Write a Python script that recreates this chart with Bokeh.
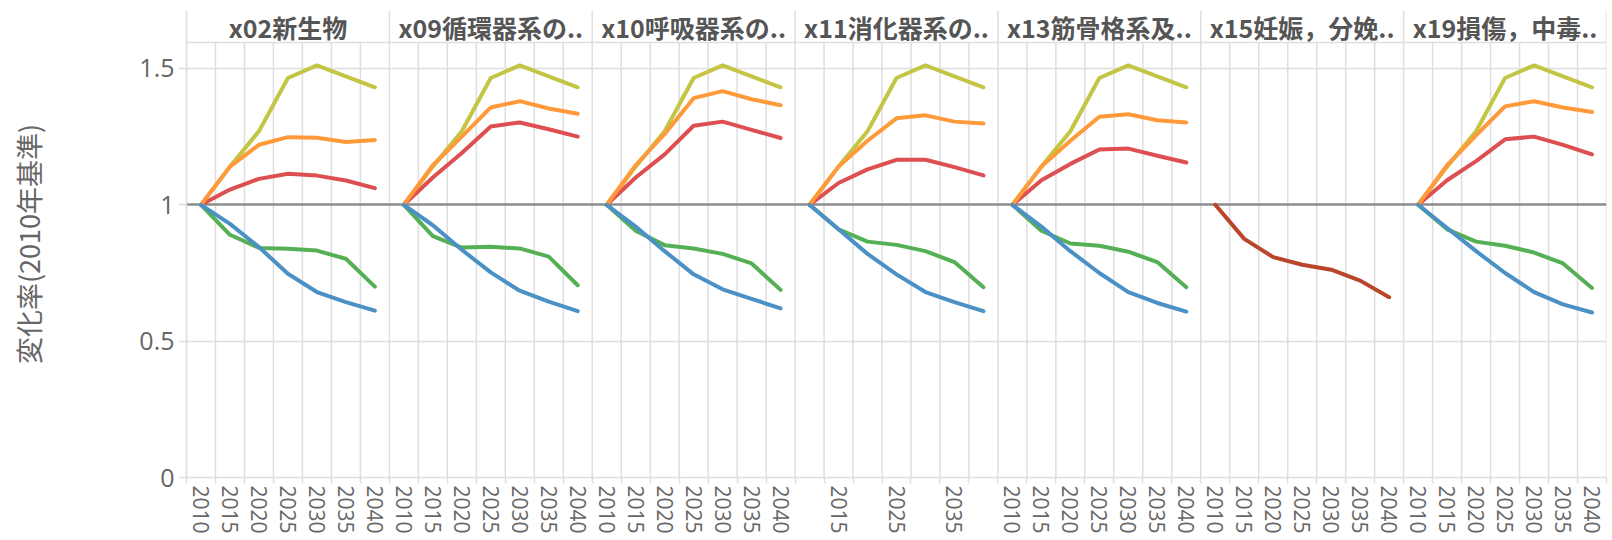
from bokeh.plotting import figure
from bokeh.models import Range1d, FixedTicker
from bokeh.core.properties import value
from bokeh.embed import file_html
from bokeh.resources import INLINE

# ---------------- data ----------------
years = [2010, 2015, 2020, 2025, 2030, 2035, 2040]
panels = ["x02新生物", "x09循環器系の..", "x10呼吸器系の..", "x11消化器系の..",
          "x13筋骨格系及..", "x15妊娠，分娩..", "x19損傷，中毒.."]
sparse_label_panel = "x11消化器系の.."
sparse_label_years = [2015, 2025, 2035]

y_ticks = [0, 0.5, 1, 1.5]
y_tick_labels = ["0", "0.5", "1", "1.5"]
y_title = "変化率(2010年基準)"
baseline = 1.0

# one list per panel (None = series absent in that panel)
series_olive = [
    [1.0, 1.14, 1.27, 1.465, 1.511, 1.471, 1.431],
    [1.0, 1.14, 1.27, 1.465, 1.511, 1.471, 1.431],
    [1.0, 1.14, 1.27, 1.465, 1.511, 1.471, 1.431],
    [1.0, 1.14, 1.27, 1.465, 1.511, 1.471, 1.431],
    [1.0, 1.14, 1.27, 1.465, 1.511, 1.471, 1.431],
    None,
    [1.0, 1.14, 1.27, 1.465, 1.511, 1.471, 1.431],
]
series_green = [
    [1.0, 0.89, 0.842, 0.839, 0.832, 0.802, 0.700],
    [1.0, 0.885, 0.843, 0.846, 0.840, 0.810, 0.705],
    [1.0, 0.905, 0.852, 0.840, 0.820, 0.785, 0.688],
    [1.0, 0.91, 0.865, 0.853, 0.830, 0.790, 0.698],
    [1.0, 0.905, 0.858, 0.850, 0.828, 0.790, 0.698],
    None,
    [1.0, 0.91, 0.865, 0.850, 0.825, 0.785, 0.695],
]
series_red = [
    [1.0, 1.056, 1.095, 1.114, 1.107, 1.089, 1.061],
    [1.0, 1.10, 1.19, 1.287, 1.302, 1.277, 1.250],
    [1.0, 1.10, 1.185, 1.290, 1.305, 1.275, 1.245],
    [1.0, 1.08, 1.13, 1.165, 1.165, 1.138, 1.108],
    [1.0, 1.09, 1.15, 1.203, 1.206, 1.180, 1.155],
    None,
    [1.0, 1.09, 1.16, 1.240, 1.250, 1.220, 1.185],
]
series_orange = [
    [1.0, 1.14, 1.22, 1.248, 1.246, 1.230, 1.238],
    [1.0, 1.145, 1.25, 1.357, 1.380, 1.353, 1.334],
    [1.0, 1.145, 1.26, 1.391, 1.417, 1.387, 1.365],
    [1.0, 1.14, 1.235, 1.317, 1.328, 1.305, 1.298],
    [1.0, 1.14, 1.235, 1.323, 1.332, 1.310, 1.302],
    None,
    [1.0, 1.145, 1.255, 1.361, 1.380, 1.357, 1.340],
]
series_blue = [
    [1.0, 0.93, 0.845, 0.747, 0.680, 0.643, 0.612],
    [1.0, 0.925, 0.835, 0.752, 0.685, 0.645, 0.610],
    [1.0, 0.92, 0.83, 0.745, 0.690, 0.655, 0.620],
    [1.0, 0.91, 0.82, 0.745, 0.680, 0.643, 0.610],
    [1.0, 0.92, 0.83, 0.750, 0.680, 0.640, 0.608],
    None,
    [1.0, 0.915, 0.83, 0.750, 0.680, 0.635, 0.605],
]
series_brown = [
    None, None, None, None, None,
    [1.0, 0.875, 0.808, 0.780, 0.762, 0.722, 0.661],
    None,
]

series = [
    (series_olive, "#c4c545"),
    (series_green, "#55b055"),
    (series_red, "#dd4f50"),
    (series_orange, "#ff9a3a"),
    (series_blue, "#4b91c6"),
    (series_brown, "#b9452b"),
]

# ---------------- layout helpers ----------------
n_years = len(years)
n_panels = len(panels)
n_bands = n_years * n_panels
y_header = 1.594
y_top = 1.7125
grid_color = "#dedede"
text_color = "#666666"

def band_center(pi, yi):
    return pi * n_years + yi + 0.5

p = figure(width=1612, height=540, output_backend="svg", toolbar_location=None,
           x_range=Range1d(0, n_bands), y_range=Range1d(0, y_top),
           min_border_left=186, min_border_right=6, min_border_top=10,
           min_border_bottom=63)
p.title.visible = False
p.outline_line_color = None
p.background_fill_color = "white"
p.border_fill_color = "white"

# grids
p.xgrid.visible = False
p.ygrid.ticker = FixedTicker(ticks=[0.5, 1.5, y_header])
p.ygrid.grid_line_color = grid_color
p.ygrid.grid_line_width = 1.5

inner = [b for b in range(n_bands + 1) if b % n_years != 0]
seps = [b for b in range(n_bands + 1) if b % n_years == 0]
p.segment(x0=inner, x1=inner, y0=[0] * len(inner), y1=[y_header] * len(inner),
          line_color=grid_color, line_width=1.5)
p.segment(x0=seps, x1=seps, y0=[0] * len(seps), y1=[y_top] * len(seps),
          line_color=grid_color, line_width=1.5)

# reference line at 1
p.hspan(y=[baseline], line_color="#8c8c8c", line_width=2.5)

# data lines
for data, color in series:
    for pi, vals in enumerate(data):
        if vals is None:
            continue
        xs = [band_center(pi, yi) for yi in range(n_years)]
        p.line(xs, vals, line_color=color, line_width=4,
               line_join="round", line_cap="round")

# panel titles
p.text(x=[band_center(pi, n_years // 2) for pi in range(n_panels)],
       y=[(y_header + y_top) / 2] * n_panels, text=panels,
       text_font=value("Noto Sans CJK JP"), text_font_style="bold",
       text_font_size="25px", text_color="#555555",
       text_align="center", text_baseline="middle")

# x axis
centers, overrides = [], {}
for pi, name in enumerate(panels):
    for yi, yr in enumerate(years):
        c = band_center(pi, yi)
        centers.append(c)
        if name == sparse_label_panel and yr not in sparse_label_years:
            overrides[c] = ""
        else:
            overrides[c] = str(yr)
xa = p.xaxis[0]
xa.ticker = FixedTicker(ticks=centers, minor_ticks=list(range(n_bands + 1)))
xa.major_label_overrides = overrides
xa.major_label_orientation = "vertical"
xa.major_tick_out = 0
xa.major_tick_in = 0
xa.minor_tick_out = 6
xa.minor_tick_in = 0
xa.minor_tick_line_color = grid_color
xa.minor_tick_line_width = 1.5
xa.axis_line_color = grid_color
xa.axis_line_width = 1.5
xa.major_label_standoff = 2
xa.major_label_text_font = "Open Sans"
xa.major_label_text_font_size = "21px"
xa.major_label_text_color = text_color

# y axis
ya = p.yaxis[0]
ya.ticker = FixedTicker(ticks=y_ticks)
ya.major_label_overrides = dict(zip(y_ticks, y_tick_labels))
ya.major_tick_out = 8
ya.major_tick_in = 0
ya.minor_tick_out = 0
ya.minor_tick_in = 0
ya.major_tick_line_color = grid_color
ya.major_tick_line_width = 1.5
ya.axis_line_color = grid_color
ya.axis_line_width = 1.5
ya.major_label_standoff = 4
ya.major_label_text_font = "Open Sans"
ya.major_label_text_font_size = "25px"
ya.major_label_text_color = text_color
ya.axis_label = y_title
ya.axis_label_text_font = "Noto Sans CJK JP"
ya.axis_label_text_font_style = "normal"
ya.axis_label_text_font_size = "27px"
ya.axis_label_text_color = text_color
ya.axis_label_standoff = 88

open("out.html", "w").write(file_html(p, INLINE))
